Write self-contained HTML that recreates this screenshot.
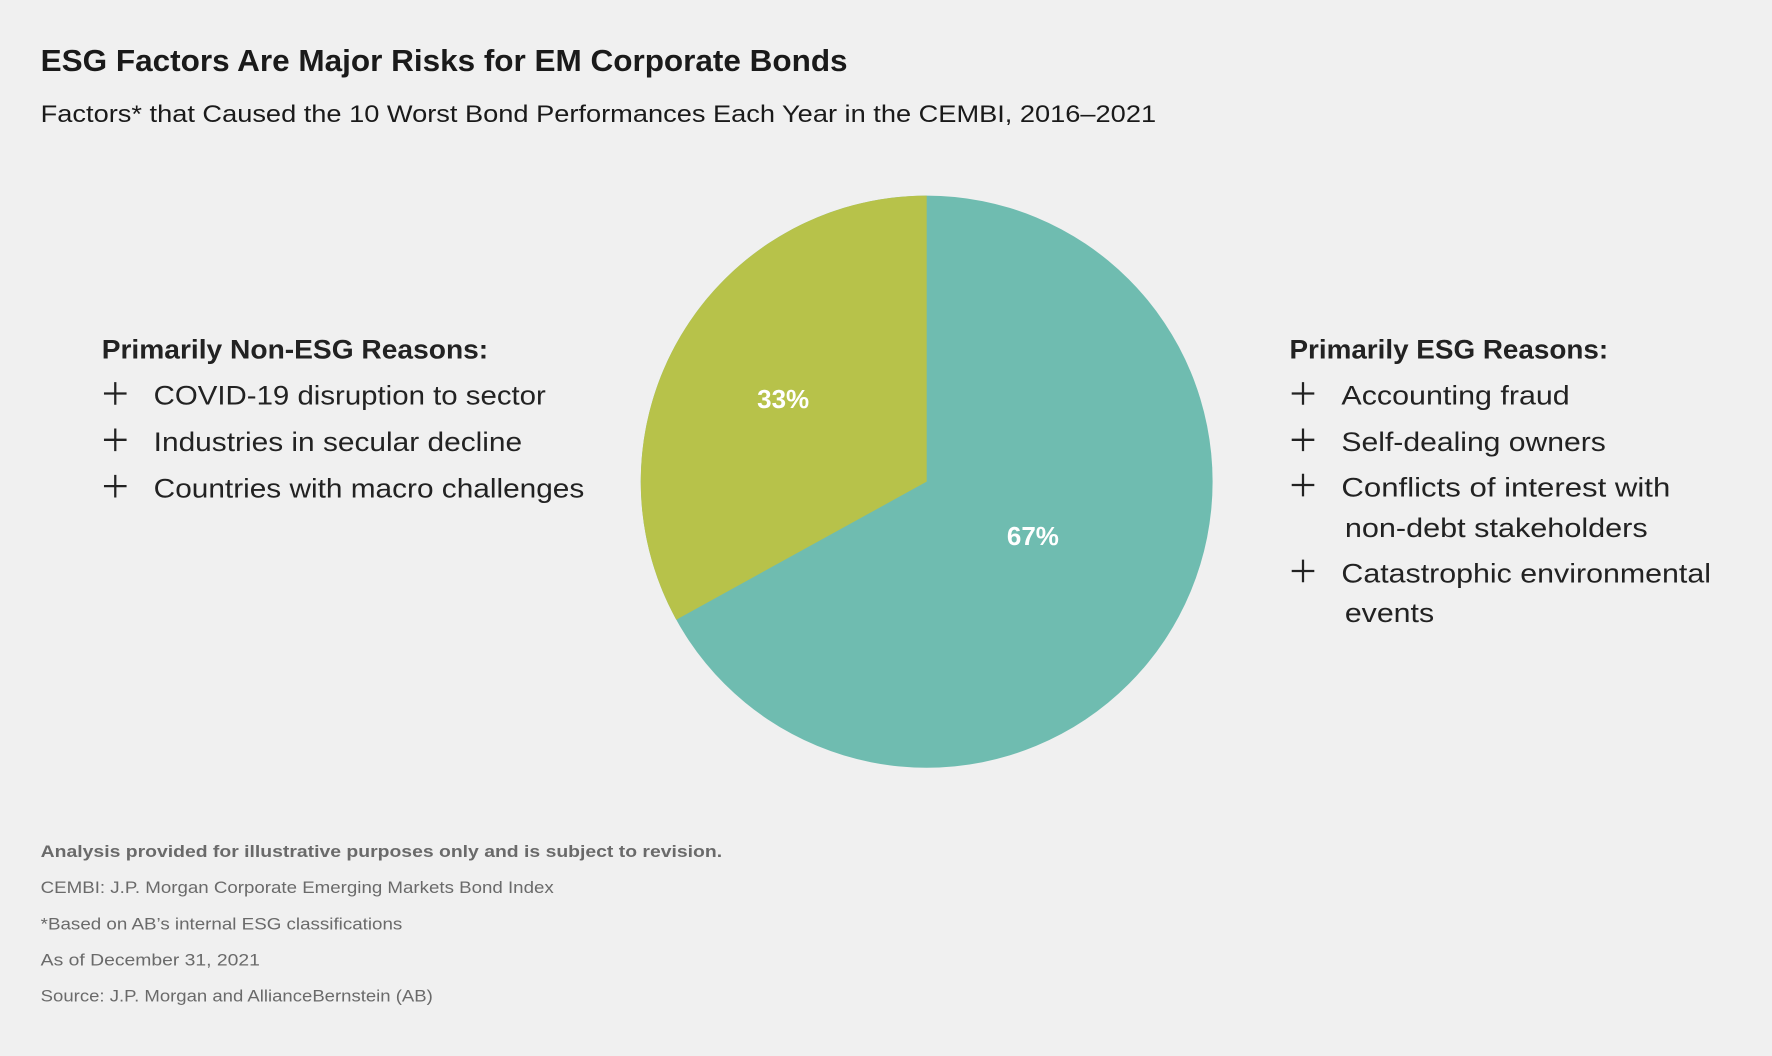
<!DOCTYPE html>
<html><head><meta charset="utf-8"><style>
html,body{margin:0;padding:0;background:#f0f0f0;}
svg{display:block;}
text{font-family:"Liberation Sans",sans-serif;}
</style></head><body>
<svg width="1772" height="1056" viewBox="0 0 1568 934" preserveAspectRatio="none" xmlns="http://www.w3.org/2000/svg">
<defs><path id="pl" d="M-10,0 H10 M0,-10 V10" stroke="#222" stroke-width="2" fill="none"/></defs>
<rect width="1568" height="934" fill="#f0f0f0"/>
<text x="36" y="63" font-size="27" font-weight="bold" fill="#1a1a1a" textLength="714" lengthAdjust="spacingAndGlyphs">ESG Factors Are Major Risks for EM Corporate Bonds</text>
<text x="36" y="108" font-size="21" fill="#1a1a1a" textLength="987" lengthAdjust="spacingAndGlyphs">Factors* that Caused the 10 Worst Bond Performances Each Year in the CEMBI, 2016–2021</text>

<circle cx="820" cy="426" r="253" fill="#6fbcb0"/>
<path d="M820,426 L820,173 A253,253 0 0 0 598.4,548.1 Z" fill="#b7c24a"/>
<text x="693" y="361" font-size="23" font-weight="bold" fill="#fff" text-anchor="middle">33%</text>
<text x="914" y="482" font-size="23" font-weight="bold" fill="#fff" text-anchor="middle">67%</text>

<use href="#pl" x="102" y="348"/><use href="#pl" x="102" y="389"/><use href="#pl" x="102" y="430"/>
<use href="#pl" x="1153" y="348"/><use href="#pl" x="1153" y="389"/><use href="#pl" x="1153" y="429"/><use href="#pl" x="1153" y="505"/>

<g fill="#222" font-size="24">
<text x="90" y="317" font-weight="bold" textLength="342" lengthAdjust="spacingAndGlyphs">Primarily Non-ESG Reasons:</text>
<text x="136" y="358" textLength="347" lengthAdjust="spacingAndGlyphs">COVID-19 disruption to sector</text>
<text x="136" y="399" textLength="326" lengthAdjust="spacingAndGlyphs">Industries in secular decline</text>
<text x="136" y="440" textLength="381" lengthAdjust="spacingAndGlyphs">Countries with macro challenges</text>

<text x="1141" y="317" font-weight="bold" textLength="282" lengthAdjust="spacingAndGlyphs">Primarily ESG Reasons:</text>
<text x="1187" y="358" textLength="202" lengthAdjust="spacingAndGlyphs">Accounting fraud</text>
<text x="1187" y="399" textLength="234" lengthAdjust="spacingAndGlyphs">Self-dealing owners</text>
<text x="1187" y="439" textLength="291" lengthAdjust="spacingAndGlyphs">Conflicts of interest with</text>
<text x="1190" y="475" textLength="268" lengthAdjust="spacingAndGlyphs">non-debt stakeholders</text>
<text x="1187" y="515" textLength="327" lengthAdjust="spacingAndGlyphs">Catastrophic environmental</text>
<text x="1190" y="550" textLength="79" lengthAdjust="spacingAndGlyphs">events</text>
</g>

<g fill="#6a6a6a" font-size="15">
<text x="36" y="758" font-weight="bold" textLength="603" lengthAdjust="spacingAndGlyphs">Analysis provided for illustrative purposes only and is subject to revision.</text>
<text x="36" y="790" textLength="454" lengthAdjust="spacingAndGlyphs">CEMBI: J.P. Morgan Corporate Emerging Markets Bond Index</text>
<text x="36" y="822" textLength="320" lengthAdjust="spacingAndGlyphs">*Based on AB’s internal ESG classifications</text>
<text x="36" y="854" textLength="194" lengthAdjust="spacingAndGlyphs">As of December 31, 2021</text>
<text x="36" y="886" textLength="347" lengthAdjust="spacingAndGlyphs">Source: J.P. Morgan and AllianceBernstein (AB)</text>
</g>
</svg>
</body></html>
